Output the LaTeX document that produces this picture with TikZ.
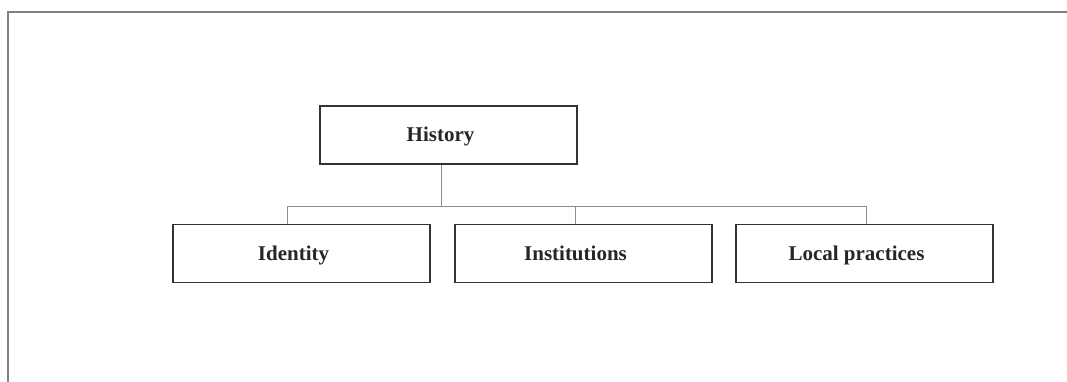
\documentclass[tikz,border=0pt]{standalone}
\usepackage{fontspec}
\setmainfont{Liberation Serif}
\begin{document}
\begin{tikzpicture}[x=1pt,y=-1pt,
  box/.style={draw=black!80, line width=1.1pt, minimum width=257pt, minimum height=58pt,
    inner sep=0pt, text height=14pt, text depth=0pt,
    font=\fontsize{21}{25}\selectfont\bfseries, text=black!85},
  conn/.style={draw=black!45, line width=0.9pt},
  frame/.style={draw=black!50, line width=1.6pt}]
\useasboundingbox (0,0) rectangle (1067,382);
\newcommand{\lbl}[1]{\kern-16pt #1}
% frame
\coordinate (fc) at (8,12);
\coordinate (fr) at (1067,12);
\coordinate (fb) at (8,382);
\draw[frame] (fb) -- (fc) -- (fr);
% boxes
\node[box] (hist) at (448.5,135) {\lbl{History}};
\node[box] (id)   at (301.5,253.5) {\lbl{Identity}};
\node[box] (inst) at (583.5,253.5) {\lbl{Institutions}};
\node[box] (loc)  at (864.5,253.5) {\lbl{Local practices}};
% connectors
\coordinate (bus) at (441,206);
\coordinate (j1) at (287,206);
\coordinate (j2) at (575,206);
\coordinate (j3) at (866,206);
\draw[conn] (hist.south -| bus) -- (bus);
\draw[conn] (j1) -- (j3);
\draw[conn] (j1) -- (j1 |- id.north);
\draw[conn] (j2) -- (j2 |- inst.north);
\draw[conn] (j3) -- (j3 |- loc.north);
\end{tikzpicture}
\end{document}
